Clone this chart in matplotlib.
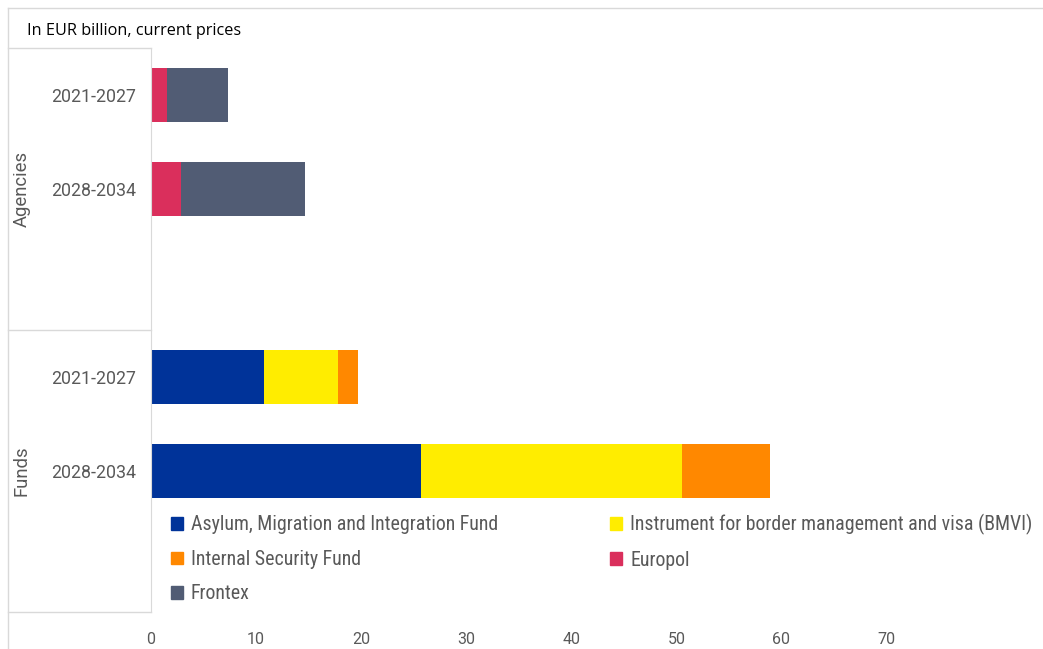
import matplotlib.pyplot as plt
from matplotlib.lines import Line2D
from matplotlib.patches import Patch

# data (EUR billion)
groups = ['Agencies', 'Funds']
periods = ['2021-2027', '2028-2034']
series = ['Asylum, Migration and Integration Fund',
          'Instrument for border management and visa (BMVI)',
          'Internal Security Fund', 'Europol', 'Frontex']
colors = ['#003399', '#FFED00', '#FF8800', '#DA2F5C', '#515C74']

# rows: Agencies 21-27, Agencies 28-34, Funds 21-27, Funds 28-34
amif = [0, 0, 10.8, 25.7]
bmvi = [0, 0, 7.0, 24.8]
isf = [0, 0, 1.9, 8.4]
europol = [1.5, 2.9, 0, 0]
frontex = [5.8, 11.8, 0, 0]

values = [amif, bmvi, isf, europol, frontex]
ypos = [0, 1, 3, 4]  # slot 2 and 5 are empty (like Excel's grouped axis)

W, H = 1043, 649
fig = plt.figure(figsize=(W / 100, H / 100), dpi=100)
plt.rcParams['font.family'] = ['Roboto', 'DejaVu Sans']
grey = '#595959'
linec = '#D9D9D9'

ax_l, ax_r, ax_t, ax_b = 151, 1040, 48, 612
ax = fig.add_axes([ax_l / W, 1 - ax_b / H, (ax_r - ax_l) / W, (ax_b - ax_t) / H])

left = [0] * len(ypos)
for s, c, v in zip(series, colors, values):
    ax.barh(ypos, v, left=left, height=0.58, color=c, label=s)
    left = [a + b for a, b in zip(left, v)]

ax.set_xlim(0, 84.6)
ax.set_ylim(5.5, -0.5)
ax.set_xticks(range(0, 80, 10))
ax.tick_params(axis='x', length=0, pad=14.5, labelsize=11.5, labelcolor=grey)
ax.set_yticks(ypos)
ax.set_yticklabels(periods * 2)
ax.tick_params(axis='y', length=0, pad=11, labelsize=12.8, labelcolor=grey)
for sp in ['top', 'right', 'bottom']:
    ax.spines[sp].set_visible(False)
ax.spines['left'].set_color(linec)

# grouped category axis decorations
def fx(px):
    return px / W

def fy(py):
    return 1 - py / H

for py in [ax_t, 330, ax_b]:
    fig.add_artist(Line2D([fx(8), fx(ax_l)], [fy(py), fy(py)], color=linec, lw=1))
fig.add_artist(Line2D([fx(8), fx(8)], [fy(8), fy(H)], color=linec, lw=1))
fig.add_artist(Line2D([fx(8), fx(W)], [fy(8), fy(8)], color=linec, lw=1))

for g, py in zip(groups, [189, 471]):
    fig.text(fx(22), fy(py), g, rotation=90, ha='center', va='center',
             fontsize=13.3, color=grey)

fig.text(fx(27), fy(31), 'In EUR billion, current prices', ha='left', va='center',
         fontsize=11.7, color='#000000', family=['Open Sans', 'DejaVu Sans'])

# legend, row-major order like the original
order = [0, 2, 4, 1, 3]
handles = [Patch(color=colors[i]) for i in order]
labels = [series[i] for i in order]
ax.legend(handles, labels, ncol=2, loc='upper left',
          bbox_to_anchor=((163 - ax_l) / (ax_r - ax_l), (ax_b - 506) / (ax_b - ax_t)),
          frameon=False, labelcolor=grey, handlelength=0.6, handleheight=0.6,
          handletextpad=0.4, columnspacing=5.65, labelspacing=0.78, borderaxespad=0,
          prop={'family': ['Liberation Sans Narrow', 'Roboto Condensed', 'Roboto'], 'size': 14.3})

fig.savefig('out.png', dpi=100, facecolor='white')
